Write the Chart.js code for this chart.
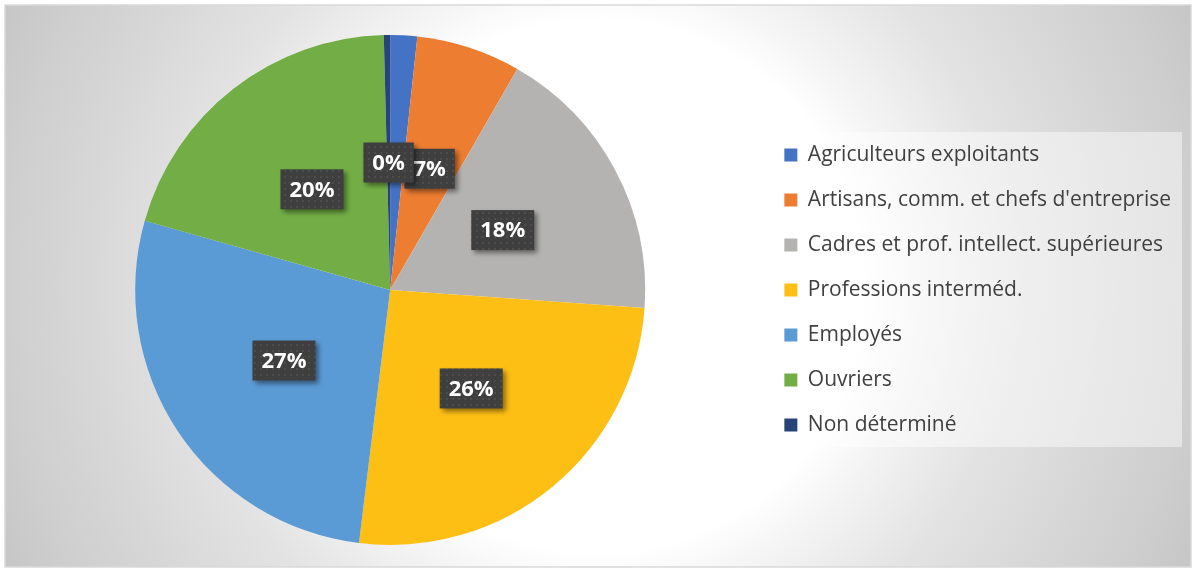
<!DOCTYPE html>
<html>
<head>
<meta charset="utf-8">
<script src="https://cdn.jsdelivr.net/npm/chart.js@4.4.1/dist/chart.umd.min.js"></script>
<style>
    html, body { margin: 0; padding: 0; background: #ffffff; }
    #wrap { width: 1196px; height: 572px; position: relative; }
</style>
</head>
<body>
<div id="wrap"><canvas id="chart1"></canvas></div>
<script>
// data (share of each group, %)
const categories = [
    'Agriculteurs exploitants',
    "Artisans, comm. et chefs d'entreprise",
    'Cadres et prof. intellect. supérieures',
    'Professions interméd.',
    'Employés',
    'Ouvriers',
    'Non déterminé'
];
const shares = [1.7, 6.6, 17.8, 25.8, 27.4, 20.2, 0.4];
const sliceColors = ['#4472C4', '#ED7D31', '#B4B3B2', '#FDBF14', '#5B9BD5', '#72AE45', '#264478'];
// the 2% label is hidden behind the others in the original
const hiddenLabels = [0];

function makeDotPattern(ctx) {
    const c = document.createElement('canvas');
    c.width = 6;
    c.height = 6;
    const p = c.getContext('2d');
    p.fillStyle = '#3f3f3f';
    p.fillRect(0, 0, 6, 6);
    p.fillStyle = '#4c4c4c';
    p.fillRect(2, 2, 2, 2);
    return ctx.createPattern(c, 'repeat');
}

// grey frame with the light radial fill, plus the pale box behind the legend
const backgroundPlugin = {
    id: 'backgroundPlugin',
    beforeDraw: function (chart) {
        const ctx = chart.ctx;
        const w = chart.width, h = chart.height;
        ctx.save();
        ctx.fillStyle = '#ffffff';
        ctx.fillRect(0, 0, w, h);
        const g = ctx.createRadialGradient(w / 2, h / 2, 0, w / 2, h / 2, 665);
        g.addColorStop(0, '#ffffff');
        g.addColorStop(0.4, '#ffffff');
        g.addColorStop(0.47, '#f5f5f5');
        g.addColorStop(0.62, '#e3e3e3');
        g.addColorStop(0.8, '#d5d5d5');
        g.addColorStop(0.9, '#cecece');
        g.addColorStop(1, '#c5c5c5');
        ctx.fillStyle = g;
        ctx.fillRect(5, 5, w - 10, h - 10);
        ctx.strokeStyle = '#d9d9d9';
        ctx.lineWidth = 1.5;
        ctx.strokeRect(5, 5, w - 10, h - 10);

        const boxes = chart.legend.legendHitBoxes;
        if (boxes && boxes.length) {
            const first = boxes[0], last = boxes[boxes.length - 1];
            const right = Math.max.apply(null, boxes.map(b => b.left + b.width));
            const top = first.top + first.height / 2 - 23;
            const bottom = last.top + last.height / 2 + 22;
            ctx.fillStyle = 'rgba(255,255,255,0.45)';
            ctx.fillRect(first.left - 10, top, right + 11 - (first.left - 10), bottom - top);
        }
        ctx.restore();
    }
};

// dark boxed percentage labels inside the slices
const sliceLabelPlugin = {
    id: 'sliceLabelPlugin',
    afterDatasetsDraw: function (chart) {
        const ctx = chart.ctx;
        const meta = chart.getDatasetMeta(0);
        const total = shares.reduce((a, b) => a + b, 0);
        const pattern = makeDotPattern(ctx);
        ctx.save();
        ctx.font = 'bold 22px "Open Sans"';
        ctx.textAlign = 'center';
        ctx.textBaseline = 'middle';
        meta.data.forEach(function (arc, i) {
            if (hiddenLabels.includes(i)) return;
            const p = arc.getProps(['x', 'y', 'startAngle', 'endAngle', 'outerRadius']);
            const mid = (p.startAngle + p.endAngle) / 2;
            const r = p.outerRadius * 0.5;
            const cx = p.x + Math.cos(mid) * r;
            const cy = p.y + Math.sin(mid) * r;
            const text = Math.round(shares[i] / total * 100) + '%';
            const tw = ctx.measureText(text).width;
            const bw = tw + 18, bh = 40;
            ctx.shadowColor = 'rgba(0,0,0,0.45)';
            ctx.shadowBlur = 5;
            ctx.shadowOffsetX = 3;
            ctx.shadowOffsetY = 3;
            ctx.fillStyle = pattern;
            ctx.fillRect(cx - bw / 2, cy - bh / 2, bw, bh);
            ctx.shadowColor = 'transparent';
            ctx.fillStyle = '#ffffff';
            ctx.fillText(text, cx, cy + 1);
        });
        ctx.restore();
    }
};

const ctx1 = document.getElementById('chart1');
const chart1 = new Chart(ctx1, {
    type: 'pie',
    data: {
        labels: categories,
        datasets: [{
            data: shares,
            backgroundColor: sliceColors,
            borderWidth: 0
        }]
    },
    options: {
        responsive: true,
        maintainAspectRatio: false,
        animation: false,
        layout: {
            padding: { left: 20, top: 35, bottom: 27, right: 15 }
        },
        plugins: {
            legend: {
                display: true,
                position: 'right',
                labels: {
                    boxWidth: 13,
                    boxHeight: 13,
                    padding: 24,
                    color: '#404040',
                    font: { family: 'Open Sans', size: 21 }
                }
            },
            tooltip: { enabled: false }
        }
    },
    plugins: [backgroundPlugin, sliceLabelPlugin]
});
</script>
</body>
</html>
